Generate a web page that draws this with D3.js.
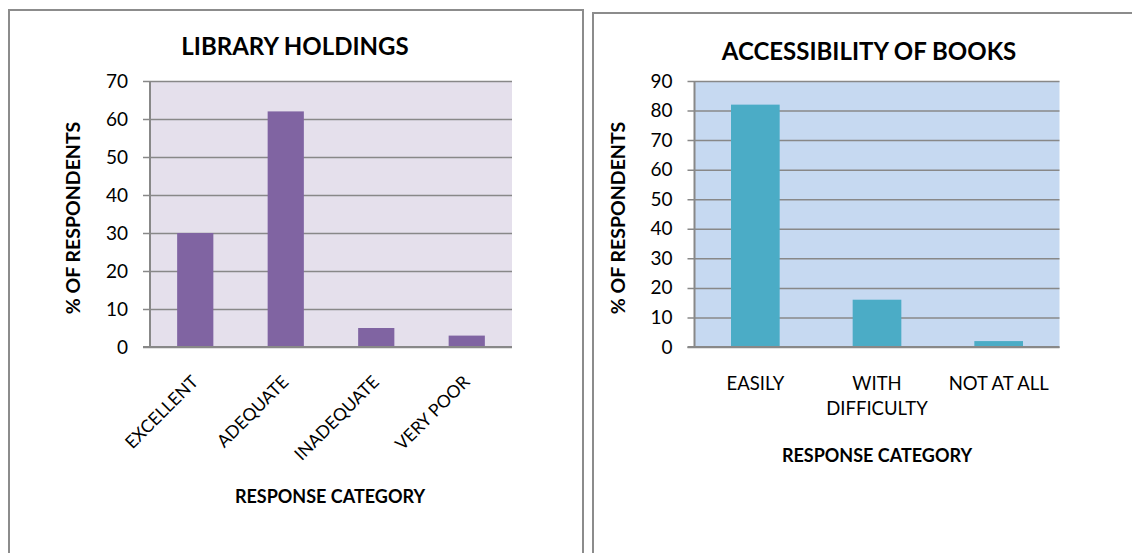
<!DOCTYPE html>
<html lang="en">
<head>
<meta charset="utf-8">
<title>library charts</title>
<script src="https://cdn.jsdelivr.net/npm/d3@7"></script>
<style>
body { margin:0; background:#fff; }
text { font-family: Lato, "Open Sans", sans-serif; fill:#000; }
</style>
</head>
<body>
<script>
var w = 1132;
var h = 553;

// chart 1 - library holdings
var holdingsCategories = ["EXCELLENT", "ADEQUATE", "INADEQUATE", "VERY POOR"];
var holdingsValues = [30, 62, 5, 3];
var holdingsTicks = [0, 10, 20, 30, 40, 50, 60, 70];

// chart 2 - accessibility of books
var accessCategories = ["EASILY", "WITH DIFFICULTY", "NOT AT ALL"];
var accessValues = [82, 16, 2];
var accessTicks = [0, 10, 20, 30, 40, 50, 60, 70, 80, 90];

var svg = d3.select("body")
            .append("svg")
            .attr("width", w)
            .attr("height", h);

//outer frames
svg.append("rect")
   .attr("x", 9).attr("y", 10)
   .attr("width", 574).attr("height", 600)
   .attr("fill", "none")
   .attr("stroke", "#8c8c8c")
   .attr("stroke-width", 2);
svg.append("rect")
   .attr("x", 593).attr("y", 13)
   .attr("width", 600).attr("height", 600)
   .attr("fill", "none")
   .attr("stroke", "#8c8c8c")
   .attr("stroke-width", 2);

function drawChart(o) {
  var g = svg.append("g");

  var xScale = d3.scaleBand()
                 .domain(o.categories)
                 .range([o.left, o.right])
                 .paddingInner(0.6)
                 .paddingOuter(0.3);
  var yScale = d3.scaleLinear()
                 .domain([0, d3.max(o.ticks)])
                 .range([o.bottom, o.top]);

  //plot background
  g.append("rect")
   .attr("x", o.left).attr("y", o.top)
   .attr("width", o.right - o.left)
   .attr("height", o.bottom - o.top)
   .attr("fill", o.bg);

  //gridlines + y axis
  var yAxis = d3.axisLeft(yScale)
                .tickValues(o.ticks)
                .tickSize(-(o.right - o.left))
                .tickPadding(22);
  var ya = g.append("g")
            .attr("transform", "translate(" + o.left + ",0)")
            .call(yAxis);
  ya.select(".domain").remove();
  ya.selectAll(".tick line")
    .attr("x1", -7)
    .attr("stroke", "#888")
    .attr("stroke-width", 1.5);
  ya.selectAll(".tick text")
    .attr("font-size", "19px")
    .attr("font-family", "Lato")
    .attr("fill", "#000");

  //bars
  g.selectAll("rect.bar")
   .data(o.values)
   .enter()
   .append("rect")
   .attr("class", "bar")
   .attr("x", function(d, i) { return xScale(o.categories[i]); })
   .attr("width", xScale.bandwidth())
   .attr("y", function(d) { return yScale(d); })
   .attr("height", function(d) { return yScale(0) - yScale(d); })
   .attr("fill", o.barColor);

  //axis lines
  g.append("line")
   .attr("x1", o.left).attr("x2", o.left)
   .attr("y1", o.top).attr("y2", o.bottom)
   .attr("stroke", "#888").attr("stroke-width", 2);
  g.append("line")
   .attr("x1", o.left - 7).attr("x2", o.right)
   .attr("y1", o.bottom).attr("y2", o.bottom)
   .attr("stroke", "#888").attr("stroke-width", 2);

  //category labels
  var labels = g.selectAll("text.cat")
                .data(o.categories)
                .enter()
                .append("text")
                .attr("class", "cat")
                .attr("font-size", o.rotate ? "17.5px" : "18.5px");
  if (o.rotate) {
    labels.attr("text-anchor", "end")
          .attr("transform", function(d) {
            return "translate(" + (xScale(d) + xScale.bandwidth() / 2 + 4) + "," + (o.bottom + 36) + ") rotate(-45)";
          })
          .text(function(d) { return d; });
  } else {
    labels.attr("text-anchor", "middle")
          .each(function(d) {
            var t = d3.select(this);
            var cx = xScale(d) + xScale.bandwidth() / 2;
            var words = d.split(" ");
            var lines = [], cur = [];
            // wrap at the category width
            words.forEach(function(wd) {
              cur.push(wd);
              t.text(cur.join(" "));
              if (this.getComputedTextLength() > xScale.step() - 6 && cur.length > 1) {
                cur.pop();
                lines.push(cur.join(" "));
                cur = [wd];
              }
            }, this);
            lines.push(cur.join(" "));
            t.text(null);
            lines.forEach(function(l, k) {
              t.append("tspan")
               .attr("x", cx)
               .attr("y", o.bottom + 43 + k * 25)
               .text(l);
            });
          });
  }

  //titles
  g.append("text")
   .attr("x", o.titleX).attr("y", o.titleY)
   .attr("text-anchor", "middle")
   .attr("font-size", "24px")
   .attr("font-weight", "bold")
   .text(o.title);
  g.append("text")
   .attr("x", o.xTitleX).attr("y", o.xTitleY)
   .attr("text-anchor", "middle")
   .attr("font-size", "18px")
   .attr("font-weight", "bold")
   .text("RESPONSE CATEGORY");
  g.append("text")
   .attr("transform", "translate(" + o.yTitleX + ",218) rotate(-90)")
   .attr("text-anchor", "middle")
   .attr("font-size", "19.5px")
   .attr("font-weight", "bold")
   .text("% OF RESPONDENTS");
}

drawChart({
  categories: holdingsCategories,
  values: holdingsValues,
  ticks: holdingsTicks,
  left: 150, right: 512, top: 81, bottom: 347,
  bg: "#E5E0EC", barColor: "#8064A2",
  rotate: true,
  title: "LIBRARY HOLDINGS", titleX: 295, titleY: 55,
  xTitleX: 330, xTitleY: 503,
  yTitleX: 80
});

drawChart({
  categories: accessCategories,
  values: accessValues,
  ticks: accessTicks,
  left: 694.5, right: 1059.5, top: 81, bottom: 347,
  bg: "#C6D9F1", barColor: "#4BACC6",
  rotate: false,
  title: "ACCESSIBILITY OF BOOKS", titleX: 869, titleY: 60,
  xTitleX: 877, xTitleY: 462,
  yTitleX: 625
});
</script>
</body>
</html>
